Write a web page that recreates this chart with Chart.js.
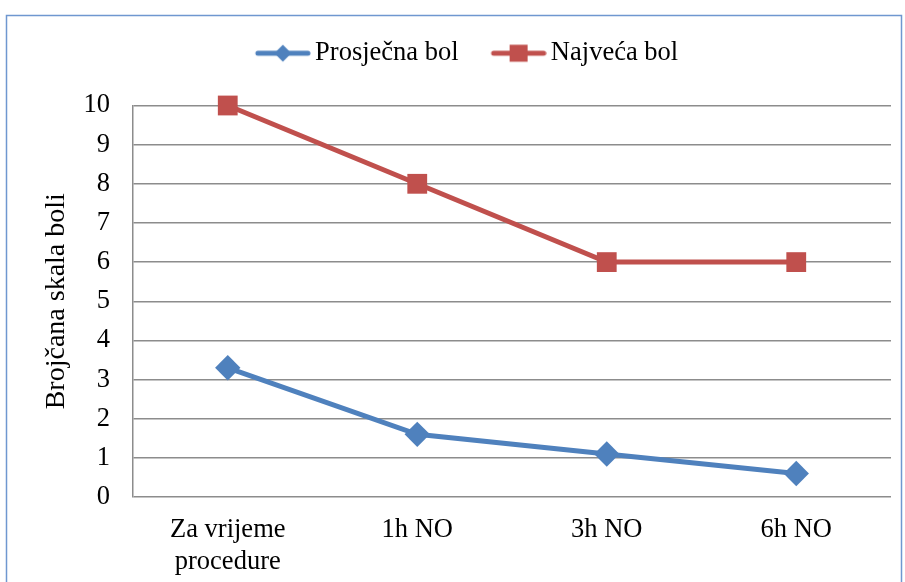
<!DOCTYPE html>
<html>
<head>
<meta charset="utf-8">
<script src="https://cdn.jsdelivr.net/npm/chart.js@4"></script>
<style>
    html, body { margin: 0; padding: 0; background: #fff; }
    canvas { display: block; }
</style>
</head>
<body>
<canvas id="painChart" width="905" height="582"></canvas>
<script>
// ============================================
// DATA
// ============================================

const categories = [['Za vrijeme', 'procedure'], '1h NO', '3h NO', '6h NO'];
const averagePain = [3.3, 1.6, 1.1, 0.6];
const maxPain = [10, 8, 6, 6];
const seriesNames = ['Prosječna bol', 'Najveća bol'];
const yTitle = 'Brojčana skala boli';

const BLUE = '#4f81bd';
const RED = '#c0504d';
const GRID = '#8c8c8c';
const FONT = "'Liberation Serif', 'Times New Roman', serif";

// ============================================
// LEGEND MARKERS (line with marker in the middle)
// ============================================

function legendMarker(color, shape) {
    const pad = 31;           // transparent room on the left, pushes the marker right
    const c = document.createElement('canvas');
    c.width = 56 + pad;
    c.height = 20;
    const ctx = c.getContext('2d');
    ctx.strokeStyle = color;
    ctx.fillStyle = color;
    ctx.lineWidth = 5;
    ctx.lineCap = 'round';
    ctx.beginPath();
    ctx.moveTo(pad + 3, 10);
    ctx.lineTo(pad + 53, 10);
    ctx.stroke();
    const cx = pad + 28;
    if (shape === 'diamond') {
        ctx.beginPath();
        ctx.moveTo(cx, 1.5);
        ctx.lineTo(cx + 8.5, 10);
        ctx.lineTo(cx, 18.5);
        ctx.lineTo(cx - 8.5, 10);
        ctx.closePath();
        ctx.fill();
    } else {
        ctx.fillRect(cx - 9, 1.5, 18, 17);
    }
    return c;
}

const markers = [legendMarker(BLUE, 'diamond'), legendMarker(RED, 'square')];

// ============================================
// FRAME + LAYOUT TWEAKS
// ============================================

const frame = {
    id: 'frame',
    afterLayout(chart) {
        // put the legend row where the reference has it
        const lg = chart.legend;
        const dy = 30 - lg.top;
        lg.top += dy;
        lg.bottom += dy;
    },
    afterDraw(chart) {
        const ctx = chart.ctx;
        ctx.save();
        ctx.strokeStyle = '#6f97d0';
        ctx.lineWidth = 1.5;
        ctx.strokeRect(6.5, 15.5, 895, 600);
        ctx.restore();
    }
};

// ============================================
// CHART
// ============================================

new Chart(document.getElementById('painChart'), {
    type: 'line',
    data: {
        labels: categories,
        datasets: [
            {
                label: seriesNames[0],
                data: averagePain,
                borderColor: BLUE,
                backgroundColor: BLUE,
                borderWidth: 5,
                pointStyle: 'rectRot',
                pointRadius: 12.7,
                pointHoverRadius: 12.7,
                pointBorderWidth: 0,
                pointBackgroundColor: BLUE,
                tension: 0,
                clip: false
            },
            {
                label: seriesNames[1],
                data: maxPain,
                borderColor: RED,
                backgroundColor: RED,
                borderWidth: 5,
                pointStyle: 'rect',
                pointRadius: 14,
                pointHoverRadius: 14,
                pointBorderWidth: 0,
                pointBackgroundColor: RED,
                tension: 0,
                clip: false
            }
        ]
    },
    options: {
        responsive: false,
        animation: false,
        layout: {
            padding: { top: 59, left: 20, right: 14, bottom: 0 }
        },
        plugins: {
            tooltip: { enabled: false },
            legend: {
                position: 'top',
                labels: {
                    color: '#000',
                    font: { family: FONT, size: 26.5 },
                    usePointStyle: true,
                    pointStyleWidth: 69,
                    padding: 10,
                    generateLabels(chart) {
                        const items = Chart.defaults.plugins.legend.labels.generateLabels(chart);
                        items.forEach((it, i) => { it.pointStyle = markers[i]; });
                        return items;
                    }
                }
            }
        },
        scales: {
            x: {
                offset: true,
                grid: { display: false, drawTicks: false },
                border: { display: false },
                ticks: {
                    color: '#000',
                    font: { family: FONT, size: 26.5 },
                    padding: 17,
                    maxRotation: 0,
                    autoSkip: false
                },
                afterFit(scale) { scale.height = 85; }
            },
            y: {
                min: 0,
                max: 10,
                ticks: {
                    stepSize: 1,
                    color: '#000',
                    font: { family: FONT, size: 26.5 },
                    padding: 23
                },
                grid: { color: GRID, lineWidth: 1.5, drawTicks: false },
                border: { display: true, color: GRID, width: 1.5 },
                title: {
                    display: true,
                    text: yTitle,
                    color: '#000',
                    font: { family: FONT, size: 28 },
                    padding: { top: 20, bottom: 0 }
                },
                afterFit(scale) { scale.width = 113; }
            }
        }
    },
    plugins: [frame]
});
</script>
</body>
</html>
